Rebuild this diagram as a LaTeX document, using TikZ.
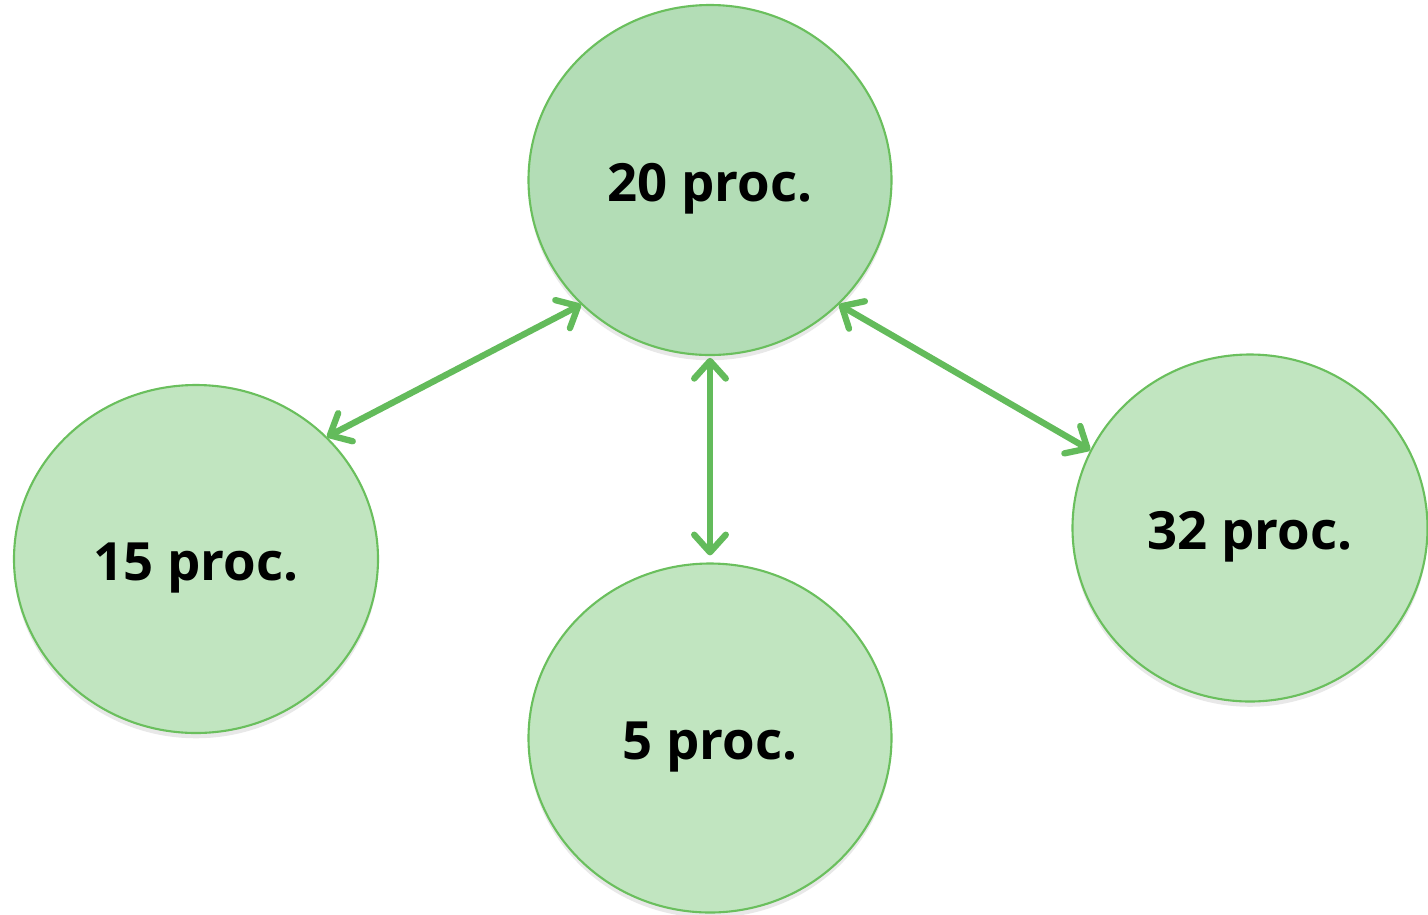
\documentclass[tikz,border=0pt]{standalone}
\usepackage{fontspec}
\setmainfont{Open Sans}
\usetikzlibrary{shapes.geometric,arrows.meta,shadows}
\definecolor{topfill}{HTML}{B3DDB6}
\definecolor{nodefill}{HTML}{C1E5C0}
\definecolor{edgegreen}{HTML}{6ABF5D}
\definecolor{arrowgreen}{HTML}{63BB5B}
\tikzset{
  bubble/.style={ellipse, draw=edgegreen, line width=1.2pt, fill=nodefill,
    inner sep=0pt, text height=24pt, text depth=0pt,
    font=\fontsize{30}{36}\selectfont\bfseries,
    drop shadow={shadow xshift=0pt, shadow yshift=-3pt, opacity=0.18}},
  link/.style={draw=arrowgreen, line width=3.6pt, line cap=round,
    {Straight Barb[length=10pt, width=18pt, line cap=round, line join=round]}-{Straight Barb[length=10pt, width=18pt, line cap=round, line join=round]}}
}
\begin{document}
\begin{tikzpicture}[x=0.02cm, y=-0.02cm]
  \useasboundingbox (0,0) rectangle (1428,914);
  \node[bubble, fill=topfill, minimum width=363*0.02cm, minimum height=350*0.02cm] (top) at (710,180) {20 proc.};
  \node[bubble, minimum width=364*0.02cm, minimum height=348*0.02cm] (left) at (196,559) {15 proc.};
  \node[bubble, minimum width=363*0.02cm, minimum height=349*0.02cm] (bottom) at (710,738) {5 proc.};
  \node[bubble, minimum width=355*0.02cm, minimum height=347*0.02cm] (right) at (1250,528) {32 proc.};
  \draw[link] (top.224) -- (left.43.4);
  \draw[link] ([yshift=-1pt]top.south) -- ([yshift=4pt]bottom.north);
  \draw[link] (top.316) -- (right.154);
\end{tikzpicture}
\end{document}
